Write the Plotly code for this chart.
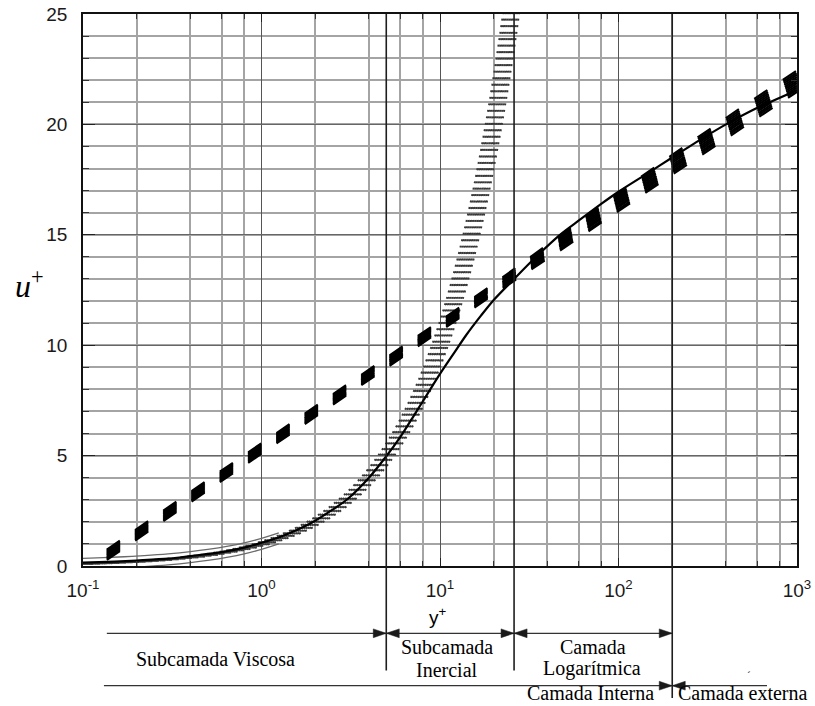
import numpy as np
import plotly.graph_objects as go

# ---------------------------------------------------------------------------
# Data: dimensionless velocity profile of a turbulent boundary layer
# ---------------------------------------------------------------------------
# Measured/modelled profile (solid curve)
profile_yplus = [0.1, 0.15, 0.2, 0.3, 0.4, 0.6, 0.8, 1.0, 1.3, 1.6, 2.0, 2.5,
                 3.0, 4.0, 5.0, 6.0, 7.0, 8.0, 10, 12, 14, 17, 20, 26, 35, 47,
                 60, 80, 100, 150, 200, 300, 400, 600, 1000]
profile_uplus = [0.15, 0.2, 0.25, 0.33, 0.45, 0.63, 0.83, 1.05, 1.35, 1.65,
                 2.05, 2.55, 3.0, 4.0, 4.97, 5.85, 6.7, 7.45, 8.7, 9.65, 10.45,
                 11.35, 12.05, 13.0, 14.05, 15.0, 15.65, 16.4, 16.95, 17.85,
                 18.5, 19.4, 20.0, 20.75, 21.55]

# Linear law of the viscous sublayer (hatched grey curve)
linear_yplus = [0.1, 0.13, 0.17, 0.22, 0.3, 0.4, 0.5, 0.65, 0.8, 1.0, 1.25,
                1.6, 2.0, 2.5, 3.0, 3.5, 4.0, 4.5, 5.0, 6.0, 7.0, 8.0, 9.0, 10,
                11, 12, 13.5, 15, 16.5, 18, 20, 22, 24, 26]
linear_uplus = [0.1, 0.13, 0.17, 0.22, 0.3, 0.4, 0.5, 0.65, 0.8, 1.0, 1.25,
                1.6, 2.0, 2.5, 3.0, 3.5, 4.0, 4.5, 5.0, 6.0, 7.0, 8.0, 9.0, 10,
                11, 12, 13.5, 15, 16.5, 18, 20, 22, 24, 26]

# Logarithmic law (thick dashed line)
loglaw_yplus = [0.136, 0.2, 0.5, 1, 2, 5, 10, 20, 50, 100, 200, 500, 1000]
loglaw_uplus = [0.51, 1.45, 3.66, 5.32, 6.99, 9.20, 10.87, 12.54, 14.78,
                16.5, 18.17, 20.35, 21.96]

# Region boundaries in y+
region_bounds = [5, 26, 200]

x_tick_vals = [0.1, 1, 10, 100, 1000]
x_tick_text = ["10<sup>-1</sup>", "10<sup>0</sup>", "10<sup>1</sup>",
               "10<sup>2</sup>", "10<sup>3</sup>"]
y_tick_vals = [0, 5, 10, 15, 20, 25]

# ---------------------------------------------------------------------------
# Layout geometry
# ---------------------------------------------------------------------------
W, H = 815, 706
M = dict(l=83, r=18, t=14, b=140)
plot_w = W - M["l"] - M["r"]
plot_h = H - M["t"] - M["b"]
X_LOG_RANGE = [-1, 3]
Y_RANGE = [0, 25]
px_per_decade = plot_w / (X_LOG_RANGE[1] - X_LOG_RANGE[0])
px_per_unit = plot_h / (Y_RANGE[1] - Y_RANGE[0])


def paper_y(row):
    """Pixel row of the page -> paper y coordinate."""
    return (H - M["b"] - row) / plot_h


def paper_x(col):
    return (col - M["l"]) / plot_w


def paper_x_of(xval):
    """Data value on the log axis -> paper x coordinate."""
    return (np.log10(xval) - X_LOG_RANGE[0]) / (X_LOG_RANGE[1] - X_LOG_RANGE[0])


def shift_x(xs, dpx):
    """Translate a curve horizontally by dpx screen pixels on the log axis."""
    f = 10 ** (dpx / px_per_decade)
    return [x * f for x in xs]


def pen_height(x):
    """Height (px) of the calligraphic pen used for the dashed log law."""
    return float(np.interp(np.log10(x), [1.3, 1.78, 2.2, 2.8], [13, 19, 22, 24]))


fig = go.Figure()

# Hatched band of the linear law: dotted copies shifted sideways give
# short horizontal strokes along the curve
for dpx in np.linspace(-8, 8, 10):
    fig.add_trace(go.Scatter(
        x=shift_x(linear_yplus, dpx), y=linear_uplus, mode="lines",
        line=dict(color="#383838", width=2, dash="2px,4.6px", shape="spline"),
        hoverinfo="skip", showlegend=False))

# Thin edges of the band in the flat part near the wall
low = [i for i, x in enumerate(linear_yplus) if x <= 1.5]
for s in (-1, 1):
    fig.add_trace(go.Scatter(
        x=[linear_yplus[i] for i in low],
        y=[linear_uplus[i] + s * 5.5 / px_per_unit for i in low],
        mode="lines", line=dict(color="#6a6a6a", width=1.3, shape="spline"),
        hoverinfo="skip", showlegend=False))

# Thick dashed log law, built from stacked thin dashed strokes so that the
# dash ends stay vertical
for k in np.linspace(-1, 1, 11):
    ys = [u + k * (pen_height(x) / 2 - 1.3) / px_per_unit
          for x, u in zip(loglaw_yplus, loglaw_uplus)]
    fig.add_trace(go.Scatter(
        x=loglaw_yplus, y=ys, mode="lines",
        line=dict(color="black", width=2.2, dash="15.8px,18.5px"),
        hoverinfo="skip", showlegend=False))

# Solid velocity profile
fig.add_trace(go.Scatter(
    x=profile_yplus, y=profile_uplus, mode="lines",
    line=dict(color="black", width=2.2, shape="spline", smoothing=0.8),
    hoverinfo="skip", showlegend=False))

# Region dividers (extend below the plot area)
divider_bottom = [670.5, 670.5, 698]
for xb, yb in zip(region_bounds, divider_bottom):
    fig.add_shape(type="line", xref="x", yref="paper", x0=xb, x1=xb,
                  y0=paper_y(yb), y1=1, layer="above",
                  line=dict(color="#1e1e1e", width=1.6))

HEAD_LEN, HEAD_HALF = 13, 4.4  # arrowhead size in px


def head(xval, row, direction):
    """Filled arrowhead whose tip sits at (xval, row); direction +1 right."""
    tip_x = paper_x_of(xval)
    back_x = tip_x - direction * HEAD_LEN / plot_w
    yc = paper_y(row)
    dy = HEAD_HALF / plot_h
    path = (f"M {tip_x},{yc} L {back_x},{yc + dy} "
            f"L {back_x},{yc - dy} Z")
    fig.add_shape(type="path", xref="paper", yref="paper", path=path,
                  fillcolor="#1a1a1a", line=dict(color="#1a1a1a", width=0.5),
                  layer="above")


def span(x_from, x_to, row, start_head=False, end_head=True):
    fig.add_shape(type="line", xref="x", yref="paper", x0=x_from, x1=x_to,
                  y0=paper_y(row), y1=paper_y(row), layer="above",
                  line=dict(color="#333", width=1.3))
    d = 1 if x_to > x_from else -1
    if end_head:
        head(x_to, row, d)
    if start_head:
        head(x_from, row, -d)


row1, row2 = 633.3, 685.7
span(0.136, region_bounds[0], row1)
span(region_bounds[0], region_bounds[1], row1, start_head=True)
span(region_bounds[1], region_bounds[2], row1, start_head=True)
span(0.131, region_bounds[2], row2)
span(679, region_bounds[2], row2)

serif = "Liberation Serif, Times New Roman, serif"
sans = "Liberation Sans, Arial, sans-serif"


def label(text, xval, row, size=20, family=serif, xanchor="center"):
    fig.add_annotation(x=np.log10(xval), y=paper_y(row), xref="x",
                       yref="paper", text=text, showarrow=False,
                       xanchor=xanchor, yanchor="middle",
                       font=dict(family=family, size=size, color="black"))


label("Subcamada Viscosa", 0.55, 659.4)
label("Subcamada", 10.9, 646.7)
label("Inercial", 10.9, 669.5)
label("Camada", 72, 646.7)
label("Logarítmica", 71, 668.4)
label("Camada Interna", 70, 693)
label("Camada externa", 498, 692.7)
label("´", 540, 675, size=11)
label("y<sup>+</sup>", 9.8, 616, size=19, family=sans)

fig.add_annotation(x=paper_x(29.5), y=paper_y(284), xref="paper",
                   yref="paper", text="<i>u</i><sup>+</sup>",
                   showarrow=False, xanchor="center", yanchor="middle",
                   font=dict(family=serif, size=32, color="black"))

minor_x = [m * d for d in (0.1, 1, 10, 100) for m in (2, 4, 6, 8)]

fig.update_xaxes(
    type="log", range=X_LOG_RANGE, tickvals=x_tick_vals, ticktext=x_tick_text,
    showgrid=True, gridcolor="#555555", gridwidth=1.4,
    minor=dict(tickvals=minor_x, showgrid=True, gridcolor="#a4a4a4",
               gridwidth=1.6, ticks="inside", ticklen=5, tickcolor="#333"),
    ticks="inside", ticklen=8, tickcolor="#222", tickwidth=1.2,
    showline=True, linecolor="#111", linewidth=1.5, mirror="ticks",
    zeroline=False, ticklabelstandoff=6, automargin=False,
    tickfont=dict(family=sans, size=19, color="#1a1a1a"))

fig.update_yaxes(
    range=Y_RANGE, tickvals=y_tick_vals,
    showgrid=True, gridcolor="#666666", gridwidth=1.4,
    minor=dict(dtick=1, showgrid=True, gridcolor="#a4a4a4", gridwidth=1.6,
               ticks="inside", ticklen=6, tickcolor="#333"),
    ticks="inside", ticklen=12, tickcolor="#222", tickwidth=1.2,
    showline=True, linecolor="#111", linewidth=1.5, mirror="ticks",
    zeroline=False, ticklabelstandoff=10, automargin=False,
    tickfont=dict(family=sans, size=19, color="#1a1a1a"))

fig.update_layout(
    width=W, height=H, margin=M, paper_bgcolor="white", plot_bgcolor="white",
    showlegend=False)

fig.write_html("out.html")
